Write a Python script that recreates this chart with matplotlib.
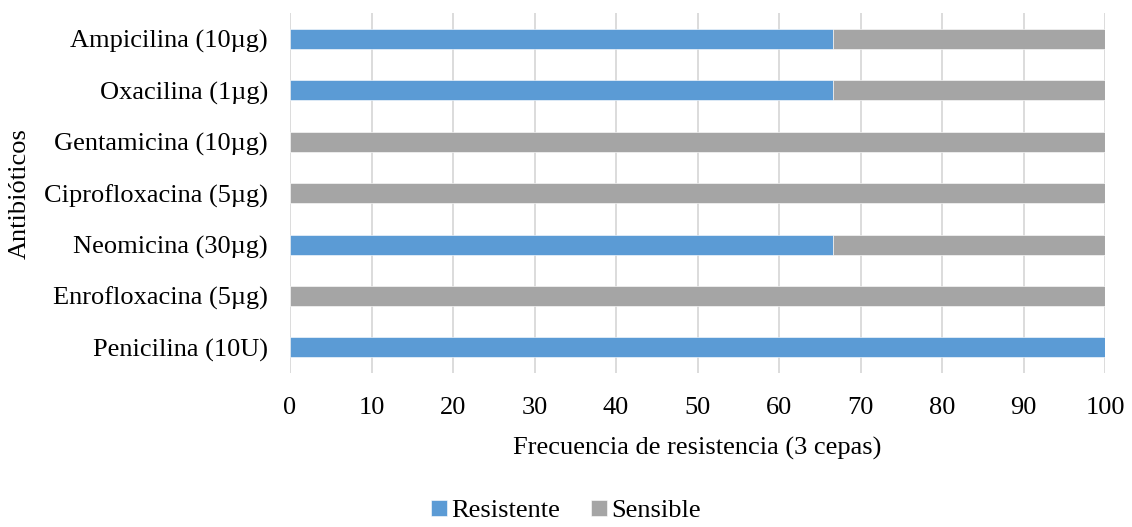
import numpy as np
import matplotlib.pyplot as plt

# frequency of resistance per antibiotic (3 strains)
antibiotics = ['Penicilina (10U)', 'Enrofloxacina (5µg)', 'Neomicina (30µg)',
               'Ciprofloxacina (5µg)', 'Gentamicina (10µg)', 'Oxacilina (1µg)',
               'Ampicilina (10µg)']
resistente = [100, 0, 66.67, 0, 0, 66.67, 66.67]
sensible = [0, 100, 33.33, 100, 100, 33.33, 33.33]

plt.rcParams['font.family'] = ['Liberation Serif', 'DejaVu Serif']
plt.rcParams['font.size'] = 19

fig = plt.figure(figsize=(11.32, 5.27), dpi=100)
ax = fig.add_axes([0.2562, 0.292, 0.7200, 0.683])

y = np.arange(len(antibiotics))
h = 0.39
ax.barh(y, resistente, height=h, color='#5B9BD5', label='Resistente', zorder=3,
        edgecolor='white', linewidth=0.4)
ax.barh(y, sensible, height=h, left=resistente, color='#A5A5A5', label='Sensible', zorder=3,
        edgecolor='white', linewidth=0.4)

ax.set_xlim(0, 100)
ax.set_ylim(-0.5, len(antibiotics) - 0.5)
ax.set_xticks(np.arange(0, 101, 10))
ax.set_yticks(y)
ax.set_yticklabels(antibiotics)
ax.tick_params(length=0)
ax.tick_params(axis='y', pad=16)
ax.tick_params(axis='x', pad=17)
ax.grid(axis='x', color='#D9D9D9', linewidth=1.3, zorder=0)
for s in ax.spines.values():
    s.set_visible(False)

ax.set_xlabel('Frecuencia de resistencia (3 cepas)', labelpad=13)
ax.set_ylabel('Antibióticos')
ax.yaxis.set_label_coords(-0.318, 0.5)

fig.legend(loc='lower center', bbox_to_anchor=(0.5, -0.036), ncol=2, frameon=False,
           handlelength=0.6, handleheight=0.6, handletextpad=0.15, columnspacing=1.2)

fig.savefig('out.png', dpi=100)
